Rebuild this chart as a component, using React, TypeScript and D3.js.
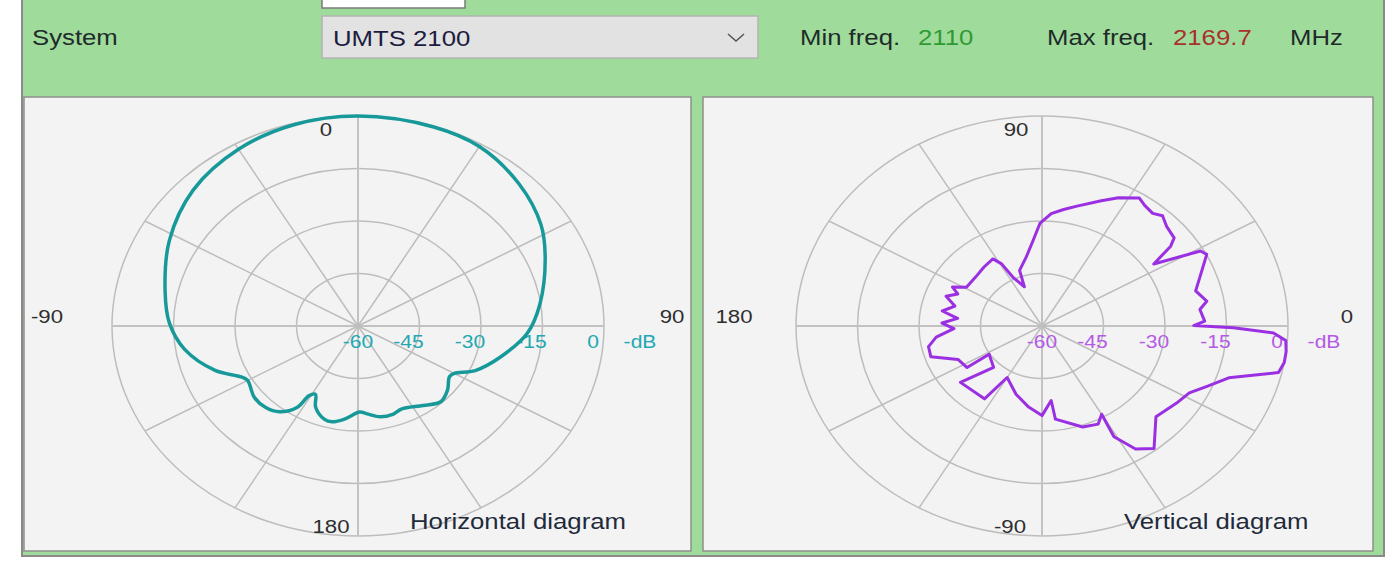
import React, { useEffect, useRef } from 'react';
import * as d3 from 'd3';

// ring levels (dB) and spoke directions (deg)
const dbRings = [-60, -45, -30, -15, 0];
const spokes = [0, 30, 60, 90, 120, 150, 180, 210, 240, 270, 300, 330];

// horizontal pattern: angle clockwise from top (deg), gain (dB)
const hAngles = [0, 18, 30, 44, 57, 67, 82, 93, 104, 114, 120, 123, 130, 137, 145, 156, 161, 168, 175, 179, 187, 193, 197, 204, 208, 211, 212.5, 218, 224, 231, 240, 243, 250, 261, 271, 282, 298, 314, 330, 345];
const hGain = [0, -0.2, -0.8, -3.5, -6.8, -10.4, -15.2, -18.7, -24, -28.7, -32.9, -33.4, -31.5, -30.4, -32.3, -34, -33.4, -33.5, -34.8, -35.4, -33.2, -31.9, -32.1, -34.6, -37.9, -36.7, -32.5, -28.9, -27.6, -27.5, -28.9, -28, -22.9, -17.2, -14, -11.9, -7.9, -4.1, -1.7, -0.4];

// vertical pattern: angle counter-clockwise from right (deg), gain (dB)
const vAngles = [0.2, 2, 7, 10, 15, 20, 27, 29, 33, 36, 38, 43, 47, 50, 54, 57, 63, 68, 76, 81, 86, 91, 95, 101, 109, 111, 117, 119, 122, 130, 139, 149, 153, 156, 160, 165, 170, 174, 178, 182, 187, 192, 198, 205, 213, 212, 225, 219, 236, 240, 252, 262, 270, 276, 277, 289, 296, 300, 299, 303, 308, 317, 326, 332, 337, 342, 347, 350, 353, 356, 358, 359.4];
const vGain = [-23, -20.3, -21.2, -19.2, -21.2, -19, -14.9, -15.8, -27.5, -21.2, -19.1, -18.4, -16.9, -18, -17.4, -16.4, -18.9, -21.4, -24.7, -26.3, -27.8, -30.7, -35.4, -39.9, -43.2, -48, -44.3, -39.7, -37.4, -38, -38.6, -38.5, -35.5, -37.5, -35.1, -38, -35.3, -39.3, -35.6, -38.5, -34, -31.7, -31.5, -37.4, -38.2, -44.8, -43.3, -34.4, -34.9, -43, -39.5, -36.6, -34.4, -38.6, -33.2, -29.5, -28.8, -30.9, -23.8, -18.1, -15.6, -22, -20.5, -19.3, -16.1, -12.1, -0.8, 0, 0, -0.4, -3.5, -13.3];

const systemName = 'UMTS 2100';
const minFreq = '2110';
const maxFreq = '2169.7';

const FONT = '"Liberation Sans", Arial, sans-serif';
const SX = 1.17;
const W = 1398;
const H = 562;

type Chart = {
  px: number; pw: number; cx: number; cy: number;
  clockwiseFromTop: boolean;
  angles: number[]; gains: number[];
  color: string; labelColor: string; smooth: boolean;
  angleLabels: { t: string; dx: number; dy: number }[];
  title: string; titleDx: number;
};

export default function App() {
  const ref = useRef<SVGSVGElement>(null);

  useEffect(() => {
    const svg = d3.select(ref.current);
    svg.selectAll('*').remove();

    const text = (g: any, x: number, y: number, s: string, size: number, color: string, anchor = 'start') =>
      g.append('text')
        .attr('transform', `translate(${x},${y}) scale(${SX},1)`)
        .attr('text-anchor', anchor)
        .attr('font-family', FONT)
        .attr('font-size', size)
        .attr('fill', color)
        .text(s);

    svg.append('rect').attr('width', W).attr('height', H).attr('fill', '#ffffff');
    svg.append('rect')
      .attr('x', 22).attr('y', -2).attr('width', 1362).attr('height', 558)
      .attr('fill', '#9fdc9b').attr('stroke', '#8a8a8a').attr('stroke-width', 2);

    // top controls
    svg.append('rect').attr('x', 322).attr('y', -2).attr('width', 143).attr('height', 10)
      .attr('fill', '#ffffff').attr('stroke', '#7a7a7a').attr('stroke-width', 1.5);
    svg.append('rect').attr('x', 322).attr('y', 16).attr('width', 436).attr('height', 42)
      .attr('fill', '#e2e2e2').attr('stroke', '#b4b4b4').attr('stroke-width', 1.5);
    svg.append('path').attr('d', 'M728,34 L736,41 L744,34')
      .attr('fill', 'none').attr('stroke', '#555').attr('stroke-width', 1.5);

    text(svg, 32, 45, 'System', 22, '#1f2b2b');
    text(svg, 333, 46, systemName, 22, '#1c1c40');
    text(svg, 800, 45, 'Min freq.', 22, '#1f2b2b');
    text(svg, 918, 45, minFreq, 22, '#2f9a33');
    text(svg, 1047, 45, 'Max freq.', 22, '#1f2b2b');
    text(svg, 1173, 45, maxFreq, 22, '#a8302e');
    text(svg, 1290, 45, 'MHz', 22, '#1f2b2b');

    const rx = 246;
    const ry = 210;
    const r = d3.scaleLinear().domain([-60, 0]).range([0, 1]);
    const rad = d3.scaleLinear().domain([0, 180]).range([0, Math.PI]);

    const charts: Chart[] = [
      {
        px: 24, pw: 667, cx: 358, cy: 326, clockwiseFromTop: true,
        angles: hAngles, gains: hGain, color: '#17999a', labelColor: '#22a8b2', smooth: true,
        angleLabels: [
          { t: '0', dx: -32, dy: -190 }, { t: '180', dx: -27, dy: 207 },
          { t: '-90', dx: -311, dy: -3 }, { t: '90', dx: 314, dy: -3 },
        ],
        title: 'Horizontal diagram', titleDx: 52,
      },
      {
        px: 703, pw: 670, cx: 1042, cy: 326, clockwiseFromTop: false,
        angles: vAngles, gains: vGain, color: '#9b30e2', labelColor: '#b35ae6', smooth: false,
        angleLabels: [
          { t: '90', dx: -26, dy: -190 }, { t: '-90', dx: -32, dy: 207 },
          { t: '180', dx: -308, dy: -3 }, { t: '0', dx: 305, dy: -3 },
        ],
        title: 'Vertical diagram', titleDx: 82,
      },
    ];

    charts.forEach((c) => {
      const toXY = (a: number, db: number): [number, number] => {
        const t = c.clockwiseFromTop ? rad(90 - a) : rad(a);
        const f = r(db);
        return [c.cx + rx * f * Math.cos(t), c.cy - ry * f * Math.sin(t)];
      };

      svg.append('rect').attr('x', c.px).attr('y', 97).attr('width', c.pw).attr('height', 454)
        .attr('fill', '#f3f3f3').attr('stroke', '#8f8f8f').attr('stroke-width', 1.5);

      const g = svg.append('g');
      g.selectAll('ellipse').data(dbRings.filter((d) => d > -60)).join('ellipse')
        .attr('cx', c.cx).attr('cy', c.cy)
        .attr('rx', (d) => rx * r(d)).attr('ry', (d) => ry * r(d))
        .attr('fill', 'none').attr('stroke', '#bdbdbd').attr('stroke-width', 1.5);
      g.selectAll('line').data(spokes).join('line')
        .attr('x1', c.cx).attr('y1', c.cy)
        .attr('x2', (a) => toXY(a, 0)[0]).attr('y2', (a) => toXY(a, 0)[1])
        .attr('stroke', (a) => (a % 90 === 0 ? '#c2c2c2' : '#bdbdbd'))
        .attr('stroke-width', (a) => (a % 90 === 0 ? 2 : 1.5));

      c.angleLabels.forEach((l) => text(g, c.cx + l.dx, c.cy + l.dy, l.t, 19, '#2e2e2e', 'middle'));
      dbRings.forEach((d) => {
        const x = c.cx + rx * r(d) + (d === -60 ? 0 : -11);
        text(g, x, 348, String(d), 18, c.labelColor, 'middle');
      });
      text(g, c.cx + rx + 36, 348, '-dB', 18, c.labelColor, 'middle');
      text(g, c.cx + c.titleDx, 529, c.title, 22, '#1f2b3b');

      const pts = c.angles.map((a, i) => toXY(a, c.gains[i]));
      const line = d3.line()
        .curve(c.smooth ? d3.curveCatmullRomClosed.alpha(0.5) : d3.curveLinearClosed);
      g.append('path').attr('d', line(pts))
        .attr('fill', 'none').attr('stroke', c.color)
        .attr('stroke-width', c.smooth ? 3.5 : 3).attr('stroke-linejoin', 'round');
    });
  }, []);

  return (
    <svg ref={ref} width={W} height={H} style={{ position: 'absolute', left: 0, top: 0 }} />
  );
}
